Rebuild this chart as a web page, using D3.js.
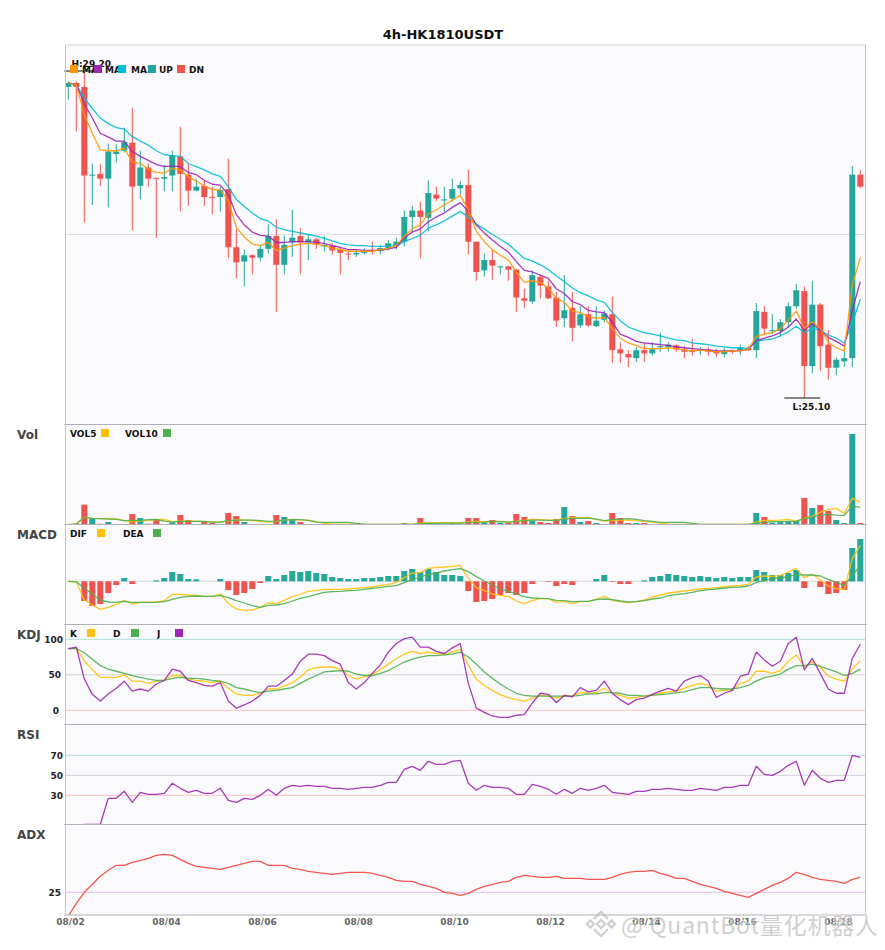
<!DOCTYPE html>
<html>
<head>
<meta charset="utf-8">
<script src="https://cdn.jsdelivr.net/npm/d3@7/dist/d3.min.js"></script>
<style>
  html, body { margin: 0; padding: 0; background: #fff; }
  text { font-family: "DejaVu Sans", sans-serif; }
</style>
</head>
<body>
<div id="chart"></div>
<script>
// Values, candle index 0..99 (4h candles)
var opens = [29.00,29.05,29.00,27.89,27.91,27.85,28.16,28.20,28.30,27.76,
  27.99,27.86,27.85,27.89,28.13,27.90,27.70,27.76,27.62,27.62,
  27.72,26.99,26.81,26.89,26.86,26.97,27.13,26.77,27.05,27.13,
  27.05,27.09,27.00,27.01,26.96,26.91,26.90,26.92,26.95,26.95,
  26.98,27.01,27.06,27.37,27.45,27.36,27.65,27.58,27.60,27.73,
  27.77,27.06,26.70,26.83,26.74,26.75,26.71,26.35,26.31,26.62,
  26.50,26.36,26.10,26.23,26.01,26.15,26.00,26.08,26.15,25.71,
  25.65,25.60,25.70,25.66,25.74,25.74,25.76,25.71,25.69,25.69,
  25.71,25.69,25.65,25.69,25.70,25.73,25.70,26.18,25.94,25.94,
  26.05,26.25,26.44,25.50,26.27,25.77,25.48,25.56,25.60,27.90];
var closes = [29.05,29.00,27.89,27.90,27.85,28.19,28.19,28.31,27.75,27.99,
  27.85,27.85,27.87,28.14,27.91,27.70,27.75,27.62,27.61,27.71,
  26.99,26.80,26.89,26.86,26.97,27.13,26.77,27.02,27.11,27.05,
  27.09,27.03,27.02,26.95,26.92,26.90,26.92,26.93,26.94,26.98,
  27.04,27.06,27.37,27.45,27.37,27.67,27.60,27.59,27.72,27.77,
  27.06,26.68,26.83,26.76,26.75,26.71,26.36,26.32,26.64,26.51,
  26.35,26.07,26.20,25.98,26.15,26.01,26.07,26.16,25.70,25.66,
  25.61,25.70,25.66,25.71,25.75,25.77,25.71,25.68,25.68,25.71,
  25.68,25.66,25.69,25.68,25.73,25.70,26.19,25.97,25.95,26.05,
  26.25,26.45,25.50,26.27,25.75,25.48,25.58,25.60,27.90,27.75];
var highs = [29.07,29.07,29.20,28.04,28.03,28.29,28.28,28.49,28.74,28.20,
  28.04,27.86,28.02,28.20,28.50,28.04,27.85,27.83,27.75,27.75,
  28.10,27.22,26.96,26.90,27.02,27.28,27.34,27.14,27.46,27.23,
  27.15,27.11,27.13,27.04,26.99,26.96,26.96,26.98,27.06,27.02,
  27.08,27.11,27.45,27.51,27.56,27.83,27.75,27.75,27.85,27.82,
  27.96,27.06,26.91,26.96,26.76,26.76,26.72,26.47,26.70,26.64,
  26.57,26.43,26.64,26.43,26.25,26.25,26.25,26.20,26.37,25.80,
  25.70,25.74,25.79,25.80,25.92,25.80,25.77,25.75,25.84,25.74,
  25.74,25.72,25.73,25.71,25.77,25.75,26.29,26.25,26.15,26.09,
  26.30,26.53,26.50,26.57,26.29,25.95,25.61,25.70,28.01,27.96];
var lows = [28.84,28.44,27.30,27.52,27.76,27.49,28.05,28.18,27.20,27.59,
  27.75,27.11,27.69,27.69,27.44,27.51,27.69,27.51,27.40,27.44,
  26.85,26.60,26.50,26.65,26.81,26.91,26.18,26.65,26.87,26.65,
  26.83,26.97,26.94,26.90,26.65,26.83,26.87,26.90,26.90,26.90,
  26.95,26.96,27.00,27.18,26.85,27.19,27.57,27.43,27.56,27.65,
  26.90,26.57,26.62,26.58,26.65,26.57,26.18,26.23,26.28,26.35,
  26.34,25.99,25.99,25.81,25.98,25.99,25.99,26.05,25.54,25.54,
  25.49,25.55,25.55,25.63,25.68,25.68,25.68,25.60,25.63,25.64,
  25.63,25.61,25.61,25.65,25.64,25.69,25.60,25.89,25.90,25.87,
  25.98,26.22,25.10,25.41,25.44,25.33,25.39,25.49,25.49,27.73];

var ma5 = [29.05,29.03,28.65,28.42,28.21,28.20,28.20,28.23,28.06,28.04,
  27.97,27.93,27.92,27.98,27.96,27.87,27.82,27.76,27.71,27.71,
  27.58,27.24,27.12,27.03,27.01,27.05,26.95,26.98,27.01,
  27.03,27.04,27.03,27.01,26.98,26.96,26.94,26.94,26.94,26.94,
  26.96,26.98,27.01,27.13,27.22,27.27,27.41,27.46,27.52,27.58,
  27.64,27.46,27.19,27.06,26.96,26.89,26.83,26.68,26.55,26.57,
  26.55,26.48,26.35,26.30,26.19,26.17,26.12,
  26.10,26.11,25.97,25.85,25.79,25.76,25.72,25.72,25.72,25.73,
  25.72,25.70,25.69,25.70,25.69,25.68,25.68,25.69,25.69,25.71,
  25.87,25.90,25.92,25.97,26.08,26.19,25.97,26.06,25.97,25.80,
  25.73,25.69,26.52,26.86];
var ma10 = [29.05,29.03,28.79,28.61,28.42,28.37,28.32,28.32,28.19,28.13,
  28.08,28.03,28.00,28.01,28.00,27.93,27.90,27.83,27.78,27.77,
  27.65,27.40,27.27,27.18,27.14,27.13,27.05,27.05,27.06,
  27.06,27.06,27.05,27.04,27.01,26.99,26.96,26.96,26.95,26.95,
  26.95,26.97,26.99,27.11,27.18,27.22,27.31,27.37,27.42,27.49,
  27.55,27.44,27.27,27.17,27.08,27.00,26.93,26.81,26.70,26.68,
  26.64,26.60,26.47,26.41,26.31,26.27,26.20,
  26.18,26.17,26.05,25.90,25.86,25.81,25.79,25.78,25.77,25.76,
  25.74,25.73,25.72,25.71,25.70,25.69,25.69,25.69,25.69,25.71,
  25.82,25.85,25.88,25.92,25.99,26.09,25.95,26.03,25.95,25.86,
  25.81,25.75,26.20,26.56];
var ma20 = [29.05,29.03,28.86,28.73,28.61,28.54,28.49,28.47,28.38,28.32,
  28.27,28.20,28.15,28.14,28.13,28.04,28.00,27.96,27.91,27.88,
  27.75,27.59,27.50,27.42,27.35,27.32,27.24,27.21,27.19,
  27.17,27.15,27.13,27.10,27.07,27.04,27.02,27.01,27.01,27.00,
  27.00,27.00,27.01,27.06,27.10,27.14,27.23,27.27,27.32,27.38,
  27.44,27.37,27.28,27.22,27.15,27.09,27.03,26.94,26.85,26.82,
  26.77,26.71,26.63,26.56,26.48,26.42,26.38,
  26.33,26.30,26.17,26.07,25.99,25.95,25.92,25.90,25.88,25.85,
  25.83,25.82,25.79,25.78,25.77,25.75,25.74,25.73,25.73,25.72,
  25.81,25.83,25.84,25.88,25.93,26.00,25.92,25.97,25.95,25.89,
  25.85,25.79,26.04,26.34];

// Volume has no scale on the picture, so these are relative units
var volumes = [0.5,4,60,18,3,8,2,2,32,20,
  3,14,2,7,29,14,2,10,5,2,
  35,26,8,2,2,2,29,23,14,8,
  2,2,2,1,1,1,1,1,1,1,
  1,1,5,1,20,7,3,3,4,3,
  20,20,7,14,6,6,32,23,12,8,
  5,17,53,26,8,11,5,2,35,20,
  5,5,5,2,2,1,1,1,0.5,0.5,
  0.5,0.5,0.5,0.5,1,1,35,23,6,8,
  8,11,80,50,59,41,14,5,272,5];
var vol5 = [1,2,22,19,18,19,18,12,8,12,
  12,15,16,9,11,11,11,9,9,8,
  11,15,14,12,9,8,10,14,16,14,
  14,9,4,2,2,2,2,1,1,1,
  1,1,2,2,5,6,6,6,6,6,
  8,10,9,10,10,8,11,14,16,15,
  14,14,18,21,21,22,16,11,12,14,
  14,12,10,8,5,2,1,1,1,1,
  1,1,1,1,1,1,8,13,13,14,
  16,11,19,26,37,46,49,34,79,67];
var vol10 = [1,2,22,19,18,17,16,12,13,13,
  15,16,11,8,10,10,10,10,8,8,
  12,14,14,14,12,10,11,14,15,15,
  13,8,7,7,7,7,4,2,1,1,
  1,1,1,1,3,4,4,5,5,5,
  6,7,8,10,9,8,10,12,14,14,
  13,13,17,19,19,20,17,12,15,17,
  18,16,12,10,7,7,7,7,4,1,
  1,1,1,1,1,1,5,7,9,9,
  10,11,18,23,29,31,29,28,56,52];

var dif = [0,-0.02,-0.56,-0.71,-0.84,-0.78,-0.69,-0.57,-0.68,-0.63,
  -0.63,-0.62,-0.58,-0.39,-0.39,-0.41,-0.42,-0.45,-0.45,-0.38,
  -0.66,-0.83,-0.87,-0.86,-0.78,-0.65,-0.67,-0.57,-0.46,
  -0.38,-0.30,-0.27,-0.24,-0.24,-0.24,-0.23,-0.21,-0.19,-0.17,
  -0.12,-0.10,-0.03,0.11,0.25,0.26,0.39,0.42,0.43,0.45,
  0.48,0.09,-0.19,-0.28,-0.38,-0.42,-0.45,-0.59,-0.67,-0.58,
  -0.52,-0.52,-0.63,-0.60,-0.67,-0.61,-0.60,
  -0.53,-0.45,-0.57,-0.61,-0.64,-0.61,-0.56,-0.47,-0.41,-0.35,
  -0.32,-0.29,-0.26,-0.23,-0.21,-0.19,-0.16,-0.14,-0.12,-0.09,
  0.13,0.16,0.15,0.17,0.28,0.39,0.11,0.21,0.04,-0.14,
  -0.22,-0.24,0.68,1.08];
var dea = [0,-0.01,-0.21,-0.38,-0.56,-0.62,-0.63,-0.60,-0.63,-0.63,
  -0.63,-0.63,-0.61,-0.54,-0.48,-0.45,-0.44,-0.45,-0.45,-0.42,
  -0.49,-0.58,-0.65,-0.73,-0.78,-0.72,-0.71,-0.67,-0.59,
  -0.51,-0.46,-0.39,-0.33,-0.31,-0.30,-0.28,-0.27,-0.24,-0.21,
  -0.18,-0.15,-0.13,-0.04,0.06,0.13,0.20,0.25,0.31,0.35,
  0.38,0.29,0.14,0.01,-0.11,-0.23,-0.30,-0.38,-0.46,-0.50,
  -0.51,-0.52,-0.57,-0.58,-0.61,-0.60,-0.60,
  -0.55,-0.53,-0.55,-0.59,-0.62,-0.61,-0.58,-0.53,-0.50,-0.43,
  -0.40,-0.37,-0.33,-0.28,-0.25,-0.23,-0.20,-0.18,-0.17,-0.14,
  -0.04,0.03,0.08,0.10,0.14,0.20,0.19,0.19,0.16,0.06,
  -0.03,-0.13,0.19,0.46];
var macdHist = [0,0,-0.59,-0.74,-0.68,-0.35,-0.11,0.10,-0.08,0,
  0,0.03,0.10,0.28,0.22,0.07,0.06,0,0,0.07,
  -0.26,-0.41,-0.35,-0.23,-0.05,0.16,0.07,0.19,0.31,0.28,
  0.31,0.25,0.22,0.13,0.10,0.07,0.07,0.10,0.10,0.13,
  0.16,0.16,0.31,0.37,0.28,0.37,0.28,0.19,0.19,0.16,
  -0.29,-0.62,-0.59,-0.53,-0.41,-0.35,-0.41,-0.35,-0.08,0,
  -0.02,-0.14,-0.08,-0.11,0,0,0.07,0.19,-0.02,-0.08,
  -0.08,0,0.03,0.13,0.16,0.22,0.19,0.16,0.13,0.16,
  0.13,0.10,0.13,0.10,0.13,0.13,0.34,0.28,0.19,0.19,
  0.25,0.34,-0.20,0,-0.17,-0.38,-0.35,-0.26,1.00,1.27];

var kLine = [87,87,70,57,46.5,46.5,46.5,50,41,41,
  38,41,43,49,49,44,42,41,39,41,
  31,23,21,21,24,30,30,34,39,
  47,57,60,61,61,58,49,44,47,51,
  57,65,73,79,83,80,82,80,79,82,
  86,64,44,35,28,22,18,15,13,17,
  21,20,17,21,20,25,24,
  25,31,24,21,17,18,20,22,24,26,
  27,31,35,38,35,27,28,29,38,41,
  55,55,52,56,69,78,61,69,61,48,
  44,41,58,70];
var dLine = [87,87,81,72,63,58,55,52,49,46.5,
  44,42,42,45,46.5,45,45,44,42,41,
  38,32,30,27,25,27,28,30,32,
  38,44,49,54,55,56,55,51,49,49,
  52,56,62,68,72,75,77,77,78,79,
  82,75,65,54,45,37,30,24,21,20,
  20,20,20,20,20,21,23,
  23,25,25,24,21,21,20,21,22,23,
  25,26,29,32,32,31,30,30,32,35,
  41,46,48,51,58,63,63,65,62,58,
  54,49,52,58];
var jLine = [87,89,44,22.5,13,23,31,41,27,30,
  27,37,42,58,55,42,39,35,34,39,
  13,3,7.5,13,21,34,34,42,51,
  69,79,79,77,70,65,39,30,39,52,
  64,82,94,101,103,89,89,83,80,88,
  94,38,3,-3,-8,-10,-10,-7,-6,10,
  24,22.5,11,21,19,32,26,
  28,41,24,15,8,15,17,22.5,27,31,
  27,41,46,49,41,18,24,28,48,51,
  82,71,62,69,94,103,57,73,52,30,
  24,24,73,93];

var rsi = [null,null,1,1,1,27,27,34,23,33,
  31,31,32,42,37,33,35,32,32,37,
  25,23,27,26,30,36,30,37,40,
  39,40,39,39,37,37,36,37,38,38,
  40,43,43,56,59,55,64,61,61,64,
  65,42,35,40,38,38,37,31,31,41,
  39,36,31,36,32,37,35,
  37,40,33,32,31,34,34,36,36,37,
  36,35,35,37,36,35,38,38,40,40,
  59,51,50,54,60,64,40,55,47,43,
  45,45,70,68];

var adx = [13,19.5,25,29,33,36,38.5,38.5,40,41,
  42,43.5,44,43.5,41.5,39.5,38,37.5,37,36.5,
  37.5,38.5,39.5,40.5,40.5,38.5,38.5,38.5,37,
  36.5,35.5,35,34.5,34,34.5,35,35,35,34.5,
  33.5,32.5,31,30.5,30.5,29,28,27,25,24.5,
  23.5,24.5,26.5,28,29,30,30.5,32.5,33.5,33,
  32.5,32.5,33,32,32,32,31.5,
  31.5,31.5,32.5,34,35,35.5,35.5,36,34.5,33.5,
  32,32,30.5,29,28,27,25.5,24.5,23.5,22.5,
  24.5,26.5,28.5,30,32,35,34,32.5,31.5,31,
  30.5,29.5,31.5,32.5];

var dateTicks = [0,12,24,36,48,60,72,84,96];
var dateLabels = ["08/02","08/04","08/06","08/08","08/10","08/12","08/14","08/16","08/18"];
var highIndex = 2, lowIndex = 92;

// Chart setup
var svgWidth = 885, svgHeight = 950;
var plotLeft = 65.5, plotRight = 865.5;
var upColor = "#26a69a", downColor = "#ef5350";
var yellow = "#ffc107", green = "#4caf50", purple = "#9c27b0";

var svg = d3.select("#chart").append("svg")
  .attr("width", svgWidth)
  .attr("height", svgHeight)
  .style("display", "block");

var x = d3.scaleLinear().domain([0, 99]).range([68.3, 860.3]);
var idx = d3.range(100);
var isUp = i => closes[i] >= opens[i];

// panel frames, top to bottom
var frames = [
  {name: "main", top: 45, bottom: 424.5},
  {name: "vol", top: 424.5, bottom: 524.5},
  {name: "macd", top: 524.5, bottom: 624.5},
  {name: "kdj", top: 624.5, bottom: 724.5},
  {name: "rsi", top: 724.5, bottom: 824.5},
  {name: "adx", top: 824.5, bottom: 915}
];

frames.forEach(function(f) {
  svg.append("rect")
    .attr("x", plotLeft).attr("y", f.top)
    .attr("width", plotRight - plotLeft).attr("height", f.bottom - f.top)
    .attr("fill", "#fafafd");
  svg.append("clipPath").attr("id", "clip-" + f.name)
    .append("rect")
    .attr("x", plotLeft).attr("y", f.top)
    .attr("width", plotRight - plotLeft).attr("height", f.bottom - f.top);
  f.g = svg.append("g").attr("clip-path", "url(#clip-" + f.name + ")");
});
var panel = name => frames.find(f => f.name === name);

function drawGuide(g, y, color) {
  g.append("line")
    .attr("x1", plotLeft).attr("x2", plotRight)
    .attr("y1", y).attr("y2", y)
    .attr("stroke", color).attr("stroke-width", 1);
}

function drawLine(g, values, y, color, width) {
  var line = d3.line()
    .defined(d => d !== null)
    .x((d, i) => x(i))
    .y(d => y(d));
  g.append("path")
    .datum(values)
    .attr("fill", "none")
    .attr("stroke", color)
    .attr("stroke-width", width || 1.3)
    .attr("stroke-opacity", 0.9)
    .attr("stroke-linejoin", "round")
    .attr("d", line);
}

// Step 1: main candle panel
var yPrice = d3.scaleLinear().domain([25.1, 29.2]).range([398, 71]);
var mainG = panel("main").g;
drawGuide(mainG, yPrice(27.15), "#dddde0");

var candles = mainG.selectAll(".candle").data(idx).enter().append("g").attr("class", "candle");
candles.append("line")
  .attr("x1", i => x(i)).attr("x2", i => x(i))
  .attr("y1", i => yPrice(highs[i])).attr("y2", i => yPrice(lows[i]))
  .attr("stroke", i => isUp(i) ? upColor : downColor)
  .attr("stroke-width", 1);
candles.append("rect")
  .attr("x", i => x(i) - 3).attr("width", 6)
  .attr("y", i => yPrice(Math.max(opens[i], closes[i])))
  .attr("height", i => Math.max(1, Math.abs(yPrice(opens[i]) - yPrice(closes[i]))))
  .attr("fill", i => isUp(i) ? upColor : downColor);

drawLine(mainG, ma20, yPrice, "#00bcd4");
drawLine(mainG, ma10, yPrice, purple);
drawLine(mainG, ma5, yPrice, "#ff9800");

// high and low markers
var extremes = svg.append("g");
[[highIndex, highs[highIndex], "H:29.20", -4], [lowIndex, lows[lowIndex], "L:25.10", 12]].forEach(function(m) {
  var mx = x(m[0]), my = yPrice(m[1]);
  extremes.append("line")
    .attr("x1", mx - 20).attr("x2", mx + 16)
    .attr("y1", my).attr("y2", my)
    .attr("stroke", "#111").attr("stroke-width", 1);
  extremes.append("text")
    .attr("x", mx + 7).attr("y", my + m[3])
    .attr("text-anchor", "middle")
    .attr("font-size", 9).attr("font-weight", "bold").attr("fill", "#111")
    .text(m[2]);
});

// Step 2: volume panel
var yVol = d3.scaleLinear().domain([0, 272]).range([524.7, 434]);
var volG = panel("vol").g;
volG.selectAll("rect").data(idx).enter().append("rect")
  .attr("x", i => x(i) - 3).attr("width", 6)
  .attr("y", i => yVol(volumes[i]))
  .attr("height", i => yVol(0) - yVol(volumes[i]))
  .attr("fill", i => isUp(i) ? upColor : downColor);
drawLine(volG, vol5, yVol, yellow);
drawLine(volG, vol10, yVol, green);

// Step 3: MACD panel
var yMacd = d3.scaleLinear().domain([-1.31, 1.69]).range([625, 525]);
var macdG = panel("macd").g;
drawGuide(macdG, yMacd(0), "#d8d8dc");
macdG.selectAll("rect").data(idx).enter().append("rect")
  .attr("x", i => x(i) - 3).attr("width", 6)
  .attr("y", i => Math.min(yMacd(0), yMacd(macdHist[i])))
  .attr("height", i => Math.abs(yMacd(macdHist[i]) - yMacd(0)))
  .attr("fill", i => macdHist[i] >= 0 ? upColor : downColor);
drawLine(macdG, dif, yMacd, yellow);
drawLine(macdG, dea, yMacd, green);

// Step 4: KDJ, RSI and ADX panels
var yKdj = d3.scaleLinear().domain([0, 100]).range([710.3, 639.3]);
var kdjG = panel("kdj").g;
drawGuide(kdjG, yKdj(100), "#b2dfdb");
drawGuide(kdjG, yKdj(50), "#d4d4d8");
drawGuide(kdjG, yKdj(0), "#ffc0c0");
drawLine(kdjG, kLine, yKdj, yellow);
drawLine(kdjG, dLine, yKdj, green);
drawLine(kdjG, jLine, yKdj, purple);

var yRsi = d3.scaleLinear().domain([30, 70]).range([795.3, 755.3]);
var rsiG = panel("rsi").g;
drawGuide(rsiG, yRsi(70), "#b2dfdb");
drawGuide(rsiG, yRsi(50), "#d4d4d8");
drawGuide(rsiG, yRsi(30), "#ffc0c0");
drawLine(rsiG, rsi, yRsi, purple);

var yAdx = d3.scaleLinear().domain([25, 59]).range([892.3, 824.3]);
var adxG = panel("adx").g;
drawGuide(adxG, yAdx(25), "#e1bee7");
drawLine(adxG, adx, yAdx, "#f44336");

// y tick labels sit at slightly different right edges in the original
function drawTicks(values, y, rights) {
  var axis = svg.append("g").attr("transform", "translate(" + plotLeft + ",0)")
    .call(d3.axisLeft(y).tickValues(values).tickSize(0));
  axis.select(".domain").remove();
  axis.selectAll("text")
    .attr("x", (d, i) => rights[i] - plotLeft)
    .attr("font-size", 9).attr("font-weight", "bold").attr("fill", "#222")
    .attr("font-family", "DejaVu Sans");
}
drawTicks([100, 50, 0], yKdj, [63, 61, 59]);
drawTicks([70, 50, 30], yRsi, [63, 63, 63]);
drawTicks([25], yAdx, [61]);

// Frame lines on top of the marks
frames.forEach(function(f, n) {
  svg.append("line")
    .attr("x1", plotLeft).attr("x2", plotRight).attr("y1", f.top).attr("y2", f.top)
    .attr("stroke", n === 0 ? "#d0d0da" : "#b0b0b6");
  [[plotLeft - 1.5, plotLeft], [plotRight, plotRight + 1.5]].forEach(function(t) {
    svg.append("line")
      .attr("x1", t[0]).attr("x2", t[1]).attr("y1", f.bottom).attr("y2", f.bottom)
      .attr("stroke", "#b0b0b6");
  });
});
svg.append("line").attr("x1", plotLeft).attr("x2", plotRight).attr("y1", 915).attr("y2", 915).attr("stroke", "#b0b0b6");
svg.append("line").attr("x1", plotLeft).attr("x2", plotLeft).attr("y1", 45).attr("y2", 915).attr("stroke", "#c4c4cc");
svg.append("line").attr("x1", plotRight).attr("x2", plotRight).attr("y1", 45).attr("y2", 915).attr("stroke", "#c4c4cc");

// Date axis
var dateAxis = svg.append("g").attr("transform", "translate(1.7,915)")
  .call(d3.axisBottom(x).tickValues(dateTicks).tickSize(0).tickFormat((d, i) => dateLabels[i]));
dateAxis.select(".domain").remove();
dateAxis.selectAll("text")
  .attr("y", 10).attr("dy", 0)
  .attr("font-size", 9).attr("font-weight", "bold").attr("fill", "#666")
  .attr("font-family", "DejaVu Sans");

// Title and panel names
svg.append("text").attr("x", 443).attr("y", 38.5).attr("text-anchor", "middle")
  .attr("font-size", 13).attr("font-weight", "bold").attr("fill", "#111")
  .text("4h-HK1810USDT");

[["Vol", 439], ["MACD", 539], ["KDJ", 639], ["RSI", 739], ["ADX", 839]].forEach(function(t) {
  svg.append("text").attr("x", 17).attr("y", t[1])
    .attr("font-size", 12).attr("font-weight", "bold").attr("fill", "#444")
    .text(t[0]);
});

// Legends. On the original the main one is too tight, so labels get cut by the next swatch.
function drawLegend(items, baseline) {
  items.forEach(function(d, n) {
    var clipId = "lg-" + baseline + "-" + n;
    svg.append("clipPath").attr("id", clipId).append("rect")
      .attr("x", d.tx).attr("y", baseline - 10).attr("width", d.tw).attr("height", 14);
    svg.append("text").attr("x", d.tx).attr("y", baseline)
      .attr("clip-path", "url(#" + clipId + ")")
      .attr("font-size", 9).attr("font-weight", "bold").attr("fill", "#111")
      .text(d.label);
    svg.append("rect").attr("x", d.sx).attr("y", baseline - 8).attr("width", 8).attr("height", 8)
      .attr("fill", d.color);
  });
}
drawLegend([
  {label: "MA5", tx: 82, tw: 12, sx: 70, color: "#ff9800"},
  {label: "MA10", tx: 105, tw: 13, sx: 94, color: purple},
  {label: "MA20", tx: 131, tw: 17, sx: 118, color: "#00bcd4"},
  {label: "UP", tx: 159, tw: 18, sx: 148, color: upColor},
  {label: "DN", tx: 189, tw: 20, sx: 177, color: downColor}
], 73);
drawLegend([
  {label: "VOL5", tx: 70, tw: 30, sx: 101, color: yellow},
  {label: "VOL10", tx: 125, tw: 38, sx: 163, color: green}
], 437);
drawLegend([
  {label: "DIF", tx: 70, tw: 26, sx: 97, color: yellow},
  {label: "DEA", tx: 123, tw: 30, sx: 153, color: green}
], 537);
drawLegend([
  {label: "K", tx: 70, tw: 16, sx: 87, color: yellow},
  {label: "D", tx: 113, tw: 16, sx: 131, color: green},
  {label: "J", tx: 157, tw: 16, sx: 175, color: purple}
], 637);

// Watermark in the bottom right corner
var mark = svg.append("g").attr("opacity", 0.62);
var logo = mark.append("g").attr("transform", "translate(601,924)")
  .attr("fill", "none").attr("stroke", "#b4b4b4").attr("stroke-width", 2.4);
logo.append("path").attr("d", "M-7,-5 L0,-12 L7,-5");
logo.append("path").attr("d", "M-7,5 L0,12 L7,5");
logo.append("path").attr("d", "M-4,0 L0,-4 L4,0 L0,4 Z");
logo.append("path").attr("d", "M-14,0 L-10.5,-3.5 L-7,0 L-10.5,3.5 Z");
logo.append("path").attr("d", "M14,0 L10.5,-3.5 L7,0 L10.5,3.5 Z");
mark.append("text").attr("x", 621).attr("y", 934)
  .attr("font-size", 23)
  .attr("textLength", 257)
  .attr("lengthAdjust", "spacing")
  .attr("fill", "#b4b4b4")
  .attr("stroke", "#ffffff").attr("stroke-width", 1.5).attr("paint-order", "stroke")
  .style("font-family", '"Noto Sans CJK SC", "Noto Sans", sans-serif')
  .text("@ QuantBot量化机器人");
</script>
</body>
</html>
